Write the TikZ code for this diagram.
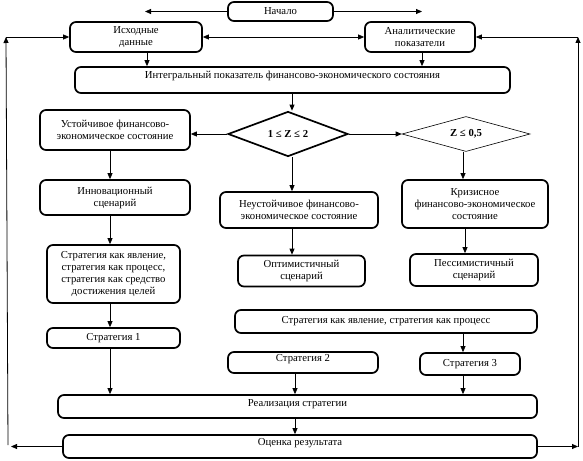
\documentclass[tikz,border=0pt]{standalone}
\usepackage{fontspec}
\setmainfont{Liberation Serif}
\usetikzlibrary{arrows.meta,shapes.geometric}
\begin{document}
\begin{tikzpicture}[x=1pt,y=-1pt,
  box/.style={draw, line width=1.7pt, rounded corners=6pt, align=center,
    font=\rmfamily\fontsize{10.7}{12}\selectfont, inner sep=0pt},
  arr/.style={line width=0.8pt, -{Triangle[length=6pt,width=5pt]}},
  dbl/.style={line width=0.8pt, {Triangle[length=6pt,width=5pt]}-{Triangle[length=6pt,width=5pt]}},
  dia/.style={diamond, draw, shape aspect=2.5, inner sep=0pt,
    font=\rmfamily\fontsize{10.7}{12}\selectfont\bfseries}]
\fill[white] (0,0) rectangle (583,460);
\useasboundingbox (0,0) rectangle (583,460);
% boxes
\node[box, minimum width=105pt, minimum height=19pt] (start) at (280.5,11.5) {Начало};
\node[box, minimum width=132pt, minimum height=30pt] (src) at (136,37) {Исходные\\данные};
\node[box, minimum width=110pt, minimum height=30pt] (ana) at (420,37) {Аналитические\\показатели};
\node[box, minimum width=435pt, minimum height=26pt, text height=7pt, text depth=10pt] (integ) at (292.5,80) {Интегральный показатель финансово-экономического состояния};
\node[box, minimum width=150pt, minimum height=40pt] (stab) at (115,130) {Устойчивое финансово-\\экономическое состояние};
\node[dia, line width=1.7pt, minimum width=120pt, minimum height=45pt] (d1) at (288,134) {1 ≤ Z ≤ 2};
\node[dia, line width=0.6pt, minimum width=128pt, minimum height=35pt] (d2) at (466,134) {Z ≤ 0,5};
\node[box, minimum width=150pt, minimum height=35pt] (inno) at (115,197.5) {Инновационный\\сценарий};
\node[box, minimum width=158pt, minimum height=36pt] (unst) at (299,210) {Неустойчивое финансово-\\экономическое состояние};
\node[box, minimum width=146pt, minimum height=48pt] (cris) at (475,204) {Кризисное\\финансово-экономическое\\состояние};
\node[box, minimum width=133pt, minimum height=58pt] (strat) at (113.5,274) {Стратегия как явление,\\стратегия как процесс,\\стратегия как средство\\достижения целей};
\node[box, minimum width=133pt, minimum height=20pt] (s1) at (113.5,338) {Стратегия 1};
\node[box, minimum width=127pt, minimum height=31pt] (opt) at (301.5,271) {Оптимистичный\\сценарий};
\node[box, minimum width=128pt, minimum height=32pt] (pes) at (474,270) {Пессимистичный\\сценарий};
\node[box, minimum width=302pt, minimum height=23pt] (sp) at (386,321.5) {Стратегия как явление, стратегия как процесс};
\node[box, minimum width=150pt, minimum height=21pt, text height=7pt, text depth=9pt] (s2) at (303,362.5) {Стратегия 2};
\node[box, minimum width=100pt, minimum height=22pt] (s3) at (470,364) {Стратегия 3};
\node[box, minimum width=479pt, minimum height=23pt, text height=7pt, text depth=7pt] (real) at (297.5,406.5) {Реализация стратегии};
\node[box, minimum width=474pt, minimum height=23pt, text height=7pt, text depth=9pt] (eval) at (300,446.5) {Оценка результата};
% free ends
\coordinate (sl) at (145,11.5);
\coordinate (sr) at (422,11.5);
\coordinate (la) at (11,446.5);
\coordinate (lb) at (8,445);
\coordinate (lc) at (6,37);
\coordinate (ra) at (578,446.5);
\coordinate (rc) at (578,37);
% connectors
\draw[arr] (start.west) -- (sl);
\draw[arr] (start.east) -- (sr);
\draw[dbl] (src.east) -- (ana.west);
\draw[arr] (eval.west) -- (la);
\draw[arr] (lb) -- (lc);
\draw[arr] (lc) -- (src.west);
\draw[arr] (eval.east) -- (ra);
\draw[arr] (ra) -- (rc);
\draw[arr] (rc) -- (ana.east);
\draw[arr] (src.south -| 147,0) -- (integ.north -| 147,0);
\draw[arr] (ana.south -| 422,0) -- (integ.north -| 422,0);
\draw[arr] (integ.south -| 292,0) -- (d1.north -| 292,0);
\draw[arr] (d1.west) -- (d1.west -| stab.east);
\draw[arr] (d1.east) -- (d2.west);
\draw[arr] (d2.south -| 463,0) -- (cris.north -| 463,0);
\draw[arr] (d1.south -| 292,0) -- (unst.north -| 292,0);
\draw[arr] (stab.south -| 110,0) -- (inno.north -| 110,0);
\draw[arr] (inno.south -| 110,0) -- (strat.north -| 110,0);
\draw[arr] (strat.south -| 110,0) -- (s1.north -| 110,0);
\draw[arr] (s1.south -| 110,0) -- (real.north -| 110,0);
\draw[arr] (unst.south -| 292,0) -- (opt.north -| 292,0);
\draw[arr] (cris.south -| 465,0) -- (pes.north -| 465,0);
\draw[arr] (sp.south -| 463,0) -- (s3.north -| 463,0);
\draw[arr] (s3.south -| 463,0) -- (real.north -| 463,0);
\draw[arr] (s2.south -| 295,0) -- (real.north -| 295,0);
\draw[arr] (real.south -| 295,0) -- (eval.north -| 295,0);
\end{tikzpicture}
\end{document}
